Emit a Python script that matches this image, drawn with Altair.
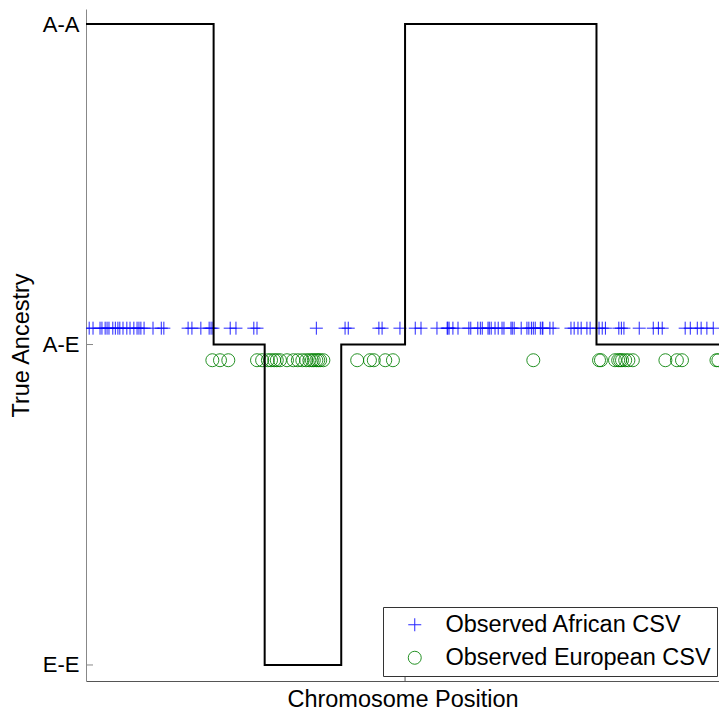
import json
import altair as alt
import pandas as pd

# Ancestry levels along the chromosome (0 = E-E, 1 = A-E, 2 = A-A)
ancestry_labels = ["E-E", "A-E", "A-A"]
breakpoints = [0, 200, 280, 400, 500, 800, 1000]
ancestry_level = [2, 1, 0, 1, 2, 1, 1]

# Positions of observed informative variants
african_pos = [5, 11, 22, 25, 30, 33, 36, 42, 46, 50, 53, 58, 64, 69, 75, 80, 83, 86, 91,
               105, 118, 122, 160, 166, 180, 193, 196, 199, 226, 235, 263, 268, 361, 406,
               411, 459, 464, 492, 516, 525, 550, 566, 567, 569, 575, 583, 600, 603, 614,
               618, 621, 630, 632, 635, 641, 646, 652, 655, 666, 668, 671, 682, 691, 694,
               698, 701, 704, 712, 715, 716, 727, 732, 760, 765, 771, 776, 785, 790, 804,
               809, 814, 835, 839, 843, 867, 889, 897, 903, 939, 947, 958, 964, 973, 983]
european_pos = [198, 210, 223, 268, 276, 285, 290, 295, 299, 304, 315, 325, 332, 339, 345,
                350, 354, 357, 361, 364, 367, 372, 425, 445, 451, 469, 481, 701, 804, 807,
                829, 834, 837, 840, 845, 850, 857, 908, 926, 934, 988, 991]
african_y = 1.051
european_y = 0.951

series_names = ["Observed African CSV", "Observed European CSV"]
series_colors = ["#0000ff", "#008000"]
plus_path = "M-1,0L1,0M0,-1L0,1"

x_domain = [0, 992]
y_domain = [-0.05, 2.047]
W, H = 633, 672
FONT = "Liberation Sans"

steps = pd.DataFrame({"pos": breakpoints, "level": ancestry_level})
obs = pd.DataFrame({
    "pos": african_pos + european_pos,
    "y": [african_y] * len(african_pos) + [european_y] * len(european_pos),
    "series": [series_names[0]] * len(african_pos) + [series_names[1]] * len(european_pos),
})
ytick_df = pd.DataFrame({"level": [0, 1, 2]})
xtick_df = pd.DataFrame({"pos": [500]})

x_scale = alt.Scale(domain=x_domain, nice=False, zero=False)
y_scale = alt.Scale(domain=y_domain, nice=False, zero=False)

x_axis = alt.Axis(title="Chromosome Position", labels=False, ticks=False, grid=False,
                  domainColor="#555555", titleFontSize=23.5, titleFontWeight="normal",
                  titleFont=FONT, titleColor="black", titlePadding=6)
label_expr = json.dumps(ancestry_labels) + "[datum.value]"
y_axis = alt.Axis(title="True Ancestry", values=[0, 1, 2], labelExpr=label_expr,
                  ticks=False, grid=False, domainColor="#888888", labelFontSize=22,
                  labelFont=FONT, labelColor="black", labelPadding=7,
                  titleFontSize=23.5, titleFontWeight="normal", titleFont=FONT,
                  titleColor="black", titlePadding=9)

step_line = alt.Chart(steps).mark_line(
    interpolate="step-after", color="black", strokeWidth=2, clip=True
).encode(
    x=alt.X("pos:Q", scale=x_scale, axis=x_axis),
    y=alt.Y("level:Q", scale=y_scale, axis=y_axis),
)

points = alt.Chart(obs).mark_point(
    filled=False, strokeWidth=1, size=169, opacity=0.85, clip=True
).encode(
    x=alt.X("pos:Q", scale=x_scale),
    y=alt.Y("y:Q", scale=y_scale),
    color=alt.Color("series:N", scale=alt.Scale(domain=series_names, range=series_colors),
                    legend=alt.Legend(title=None, orient="none", legendX=297, legendY=598,
                                      strokeColor="#333333", fillColor="white",
                                      padding=6, rowPadding=8, symbolOffset=14,
                                      labelOffset=19, labelFontSize=23.5, labelFont=FONT,
                                      labelColor="black", symbolSize=169,
                                      symbolStrokeWidth=1, labelLimit=400,
                                      cornerRadius=0)),
    shape=alt.Shape("series:N", scale=alt.Scale(domain=series_names,
                                                range=[plus_path, "circle"])),
)

y_ticks = alt.Chart(ytick_df).mark_rule(color="#888888", strokeWidth=1).encode(
    y=alt.Y("level:Q", scale=y_scale), x=alt.value(0), x2=alt.value(7)
)
x_ticks = alt.Chart(xtick_df).mark_rule(color="#555555", strokeWidth=1).encode(
    x=alt.X("pos:Q", scale=x_scale), y=alt.value(H), y2=alt.value(H - 7)
)

chart = alt.layer(y_ticks, x_ticks, points, step_line).properties(
    width=W, height=H,
    autosize=alt.AutoSizeParams(type="none"),
    padding={"left": 86, "top": 9, "right": 0, "bottom": 29},
    background="white",
).configure_view(stroke=None)

chart.save("out.html", embed_options={"renderer": "svg", "actions": False})
